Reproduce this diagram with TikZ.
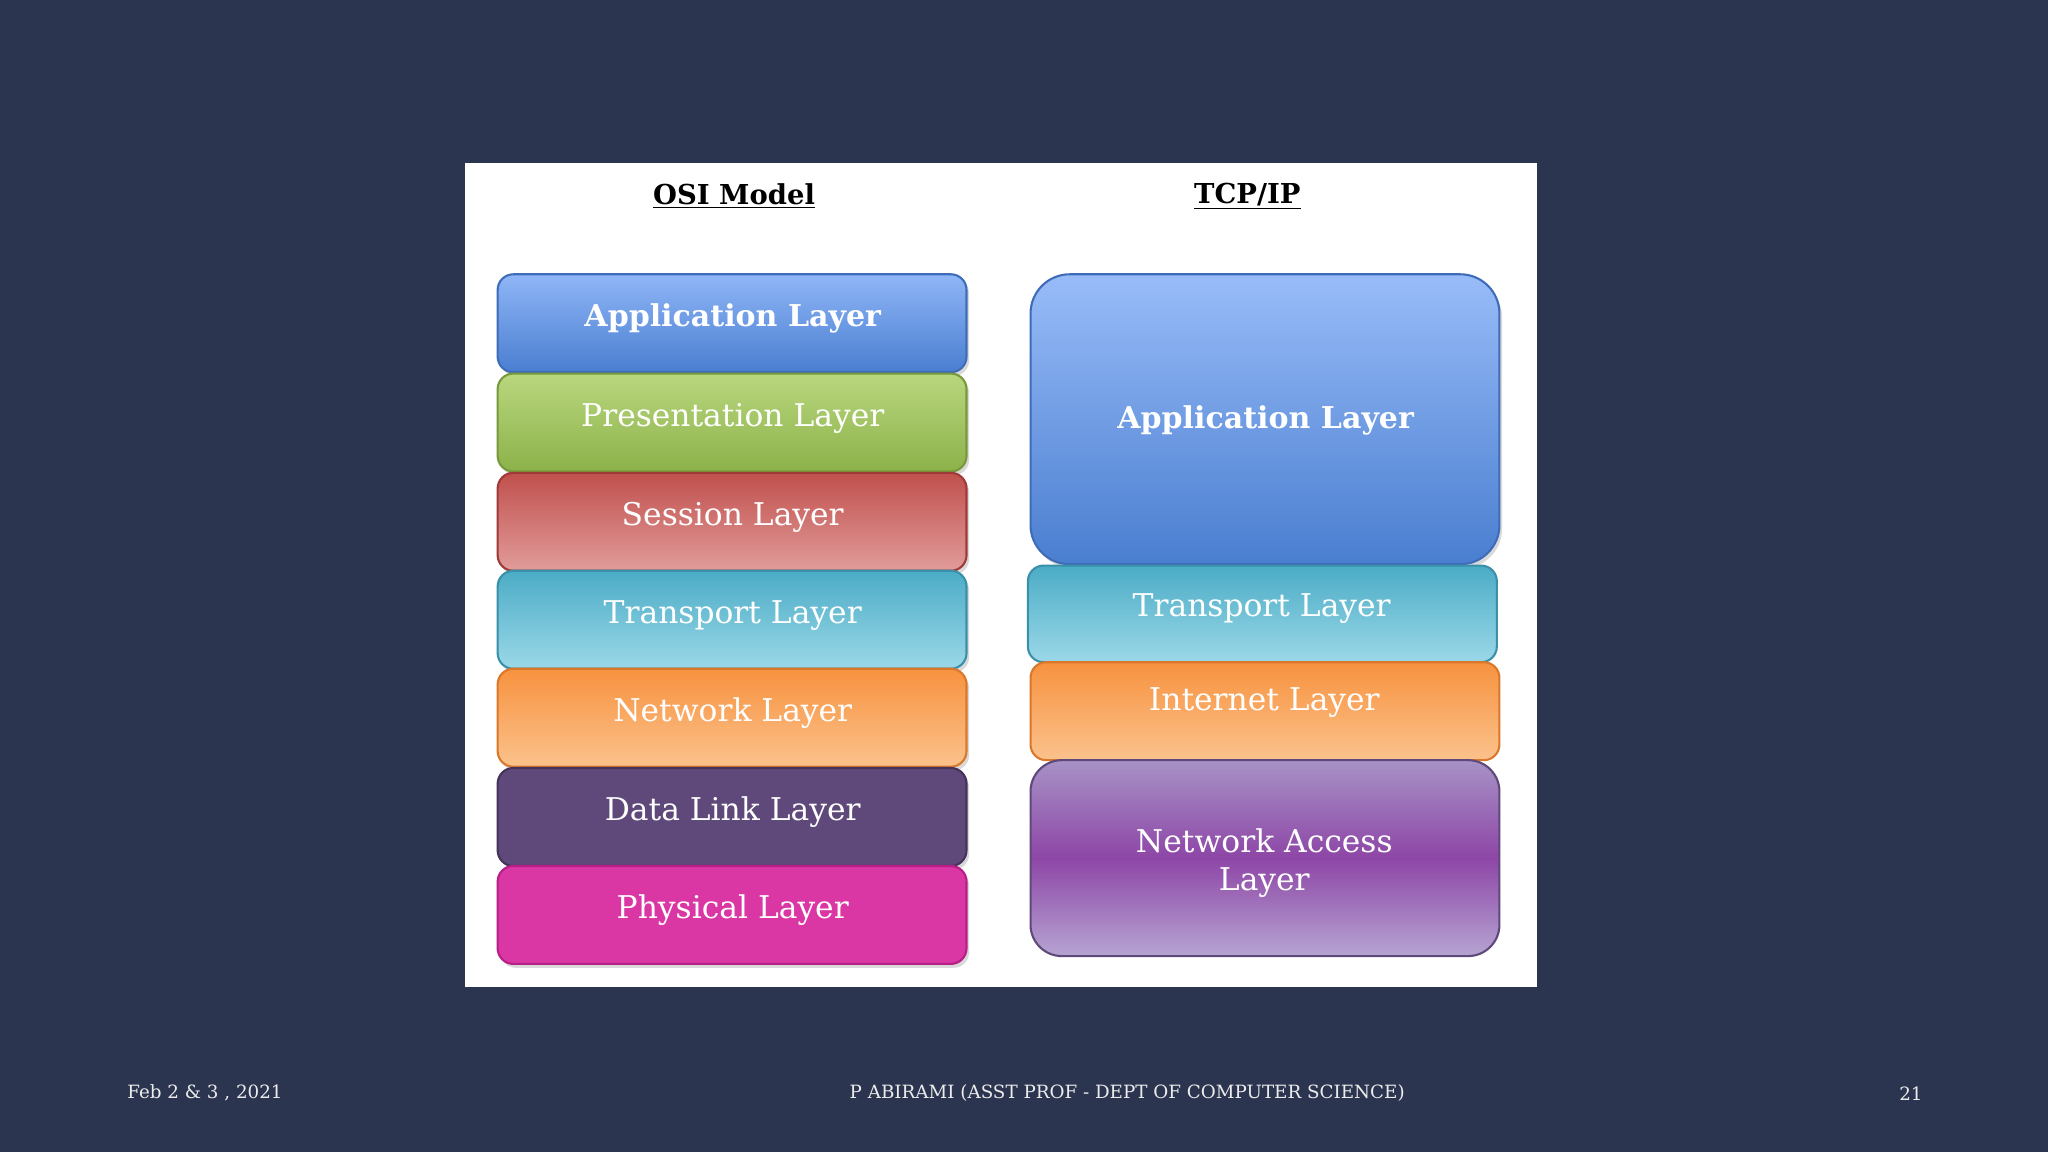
\documentclass[tikz,border=0pt]{standalone}
\usepackage{fontspec}
\setmainfont{DejaVu Serif}
\begin{document}
\begin{tikzpicture}[x=1pt,y=-1pt,
 lay/.style={rounded corners=12pt,line width=1.6pt,text=white,font=\fontsize{24}{28}\selectfont,align=center},
 hd/.style={font=\bfseries\fontsize{21}{24}\selectfont,text=black},
 ft/.style={font=\fontsize{14}{16}\selectfont,text=white!85!gray}]
\definecolor{bg}{HTML}{2C3550}
\fill[bg] (0,0) rectangle (1568,882);
\useasboundingbox (0,0) rectangle (1568,882);
\fill[white] (356,125) rectangle (1177,756);
\node[hd] (h1) at (562,150) {\underline{OSI Model}};
\node[hd] (h2) at (955,150) {\underline{TCP/IP}};
% OSI
\newcommand{\lbox}[8]{%
 \fill[black!15,rounded corners=12pt] (#1+2,#2+3) rectangle (#3+2,#4+3);
 \draw[lay,top color=#5,bottom color=#6,draw=#7] (#1,#2) rectangle (#3,#4);
 \node[lay,draw=none] (#8) at ({(#1+#3)/2},{(#2+#4)/2-2}) {#8};}
\def\A{Application Layer}
\draw[lay,top color=blue!0!white,draw=none] (0,0) rectangle (0,0);
\foreach \y/\t/\b/\d/\n/\bf in {
 210/8FB6F7/4A7ED0/3E6CB8/Application Layer/1,
 286/B9D77E/8CB24A/77983B/Presentation Layer/0,
 362/C0504D/E19C9A/9E3A38/Session Layer/0,
 437/4BACC6/9BD8E8/3A90A8/Transport Layer/0,
 512/F7923F/FBC28C/D9782A/Network Layer/0,
 588/5F497A/5F497A/44335A/Data Link Layer/0,
 663/DA36A4/DA36A4/B81F86/Physical Layer/0}{
 \definecolor{ct}{HTML}{\t}\definecolor{cb}{HTML}{\b}\definecolor{cd}{HTML}{\d}
 \fill[black!15,rounded corners=12pt] (383,\y+3) rectangle (742,\y+78);
 \draw[lay,top color=ct,bottom color=cb,draw=cd] (381,\y) rectangle (740,\y+75);
 \ifnum\bf=1 \node[lay,font=\bfseries\fontsize{23}{28}\selectfont] at (561,\y+34) {\n};
 \else \node[lay] at (561,\y+34) {\n};\fi
}
% TCP/IP
\definecolor{ct}{HTML}{98BCF8}\definecolor{cb}{HTML}{4A7ED0}\definecolor{cd}{HTML}{3E6CB8}
\fill[black!15,rounded corners=30pt] (791,213) rectangle (1150,435);
\draw[lay,rounded corners=30pt,top color=ct,bottom color=cb,draw=cd] (789,210) rectangle (1148,432);
\node[lay,font=\bfseries\fontsize{23}{28}\selectfont] (t1) at (969,322) {Application Layer};
\definecolor{ct}{HTML}{4BACC6}\definecolor{cb}{HTML}{9BD8E8}\definecolor{cd}{HTML}{3A90A8}
\draw[lay,top color=ct,bottom color=cb,draw=cd] (787,433) rectangle (1146,507);
\node[lay] (t2) at (966,466) {Transport Layer};
\definecolor{ct}{HTML}{F7923F}\definecolor{cb}{HTML}{FBC28C}\definecolor{cd}{HTML}{D9782A}
\draw[lay,top color=ct,bottom color=cb,draw=cd] (789,507) rectangle (1148,582);
\node[lay] (t3) at (968,538) {Internet Layer};
\definecolor{ct}{HTML}{A792C6}\definecolor{cb}{HTML}{B6A4D2}\definecolor{cd}{HTML}{5F497A}
\draw[lay,rounded corners=24pt,top color=ct,bottom color=cb,middle color=ct!60!purple!80!blue,draw=cd] (789,582) rectangle (1148,732);
\node[lay,font=\fontsize{24}{29}\selectfont] (t4) at (968,661) {Network Access\\Layer};
% footer
\node[ft,anchor=west] (f1) at (94,837) {Feb 2 \& 3 , 2021};
\node[ft] (f2) at (863,837) {P ABIRAMI (ASST PROF - DEPT OF COMPUTER SCIENCE)};
\node[ft] (f3) at (1463,837) {21};
\end{tikzpicture}
\end{document}
